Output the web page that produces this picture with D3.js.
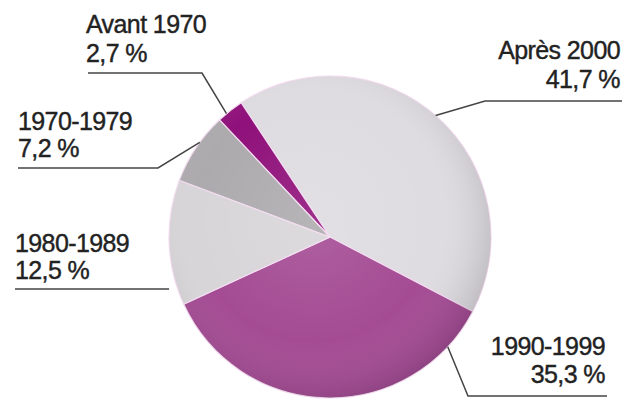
<!DOCTYPE html>
<html>
<head>
<meta charset="utf-8">
<script src="https://cdn.jsdelivr.net/npm/d3@7"></script>
<style>
  body { margin: 0; background: #fff; }
  svg { display: block; }
</style>
</head>
<body>
<div id="chart"></div>
<script>
// data, clockwise from the top-right boundary
var periods = ["Après 2000", "1990-1999", "1980-1989", "1970-1979", "Avant 1970"];
var shares = [41.7, 35.3, 12.5, 7.2, 2.7];
var shareLabels = ["41,7 %", "35,3 %", "12,5 %", "7,2 %", "2,7 %"];
var sliceColors = ["#dedbe1", "#a44b94", "#d8d5d9", "#adaaae", "#8f107a"];

var W = 626, H = 406,
    cx = 330, cy = 237, r = 161;

var svg = d3.select("#chart").append("svg")
      .attr("width", W)
      .attr("height", H);

var defs = svg.append("defs");
var shade = defs.append("radialGradient")
      .attr("id", "shade")
      .attr("cx", "45%").attr("cy", "45%").attr("r", "58%");
shade.append("stop").attr("offset", "0%").attr("stop-color", "#fff").attr("stop-opacity", 0.12);
shade.append("stop").attr("offset", "65%").attr("stop-color", "#fff").attr("stop-opacity", 0);
shade.append("stop").attr("offset", "100%").attr("stop-color", "#000").attr("stop-opacity", 0.15);

var pie = d3.pie()
      .sort(null)
      .value(function (d) { return d; })
      .startAngle(-33.5 * Math.PI / 180)
      .endAngle(-33.5 * Math.PI / 180 + 2 * Math.PI);

var arc = d3.arc().innerRadius(0).outerRadius(r);

var g = svg.append("g").attr("transform", "translate(" + cx + "," + cy + ")");

g.selectAll(".slice")
  .data(pie(shares))
  .enter().append("path")
  .attr("class", "slice")
  .attr("d", arc)
  .style("fill", function (d, i) { return sliceColors[i]; })
  .style("stroke", "#f3dcf0")
  .style("stroke-width", 1.2);

/* soft shading on top */
g.append("circle")
  .attr("r", r)
  .style("fill", "url(#shade)")
  .style("pointer-events", "none");

/* leader lines and labels */
var callouts = [
  {angle: 41,  elbow: [485, 101], end: 622, tx: 620, anchor: "end",   y1: 59,  y2: 88},
  {angle: 133, elbow: [468, 396], end: 607, tx: 605, anchor: "end",   y1: 355, y2: 383},
  {angle: 272, elbow: null,       end: 15,  tx: 15,  anchor: "start", y1: 252, y2: 279, ly: 289},
  {angle: 306, elbow: [158, 168], end: 18,  tx: 18,  anchor: "start", y1: 130, y2: 157},
  {angle: 320, elbow: [202, 73],  end: 88,  tx: 86,  anchor: "start", y1: 33,  y2: 62}
];

callouts.forEach(function (c, i) {
  var a = c.angle * Math.PI / 180;
  var px = cx + Math.sin(a) * r, py = cy - Math.cos(a) * r;
  var pts;
  if (c.elbow) pts = [[px, py], c.elbow, [c.end, c.elbow[1]]];
  else pts = [[px, c.ly], [c.end, c.ly]];

  svg.append("path")
    .attr("d", d3.line()(pts))
    .style("fill", "none")
    .style("stroke", "#444")
    .style("stroke-width", 1.5);

  [[periods[i], c.y1], [shareLabels[i], c.y2]].forEach(function (t) {
    svg.append("text")
      .attr("x", c.tx).attr("y", t[1])
      .attr("text-anchor", c.anchor)
      .style("font", "25px 'Liberation Sans', Arial, sans-serif")
      .style("letter-spacing", "-0.6px")
      .style("fill", "#222")
      .style("stroke", "#222")
      .style("stroke-width", 0.4)
      .text(t[0]);
  });
});
</script>
</body>
</html>
